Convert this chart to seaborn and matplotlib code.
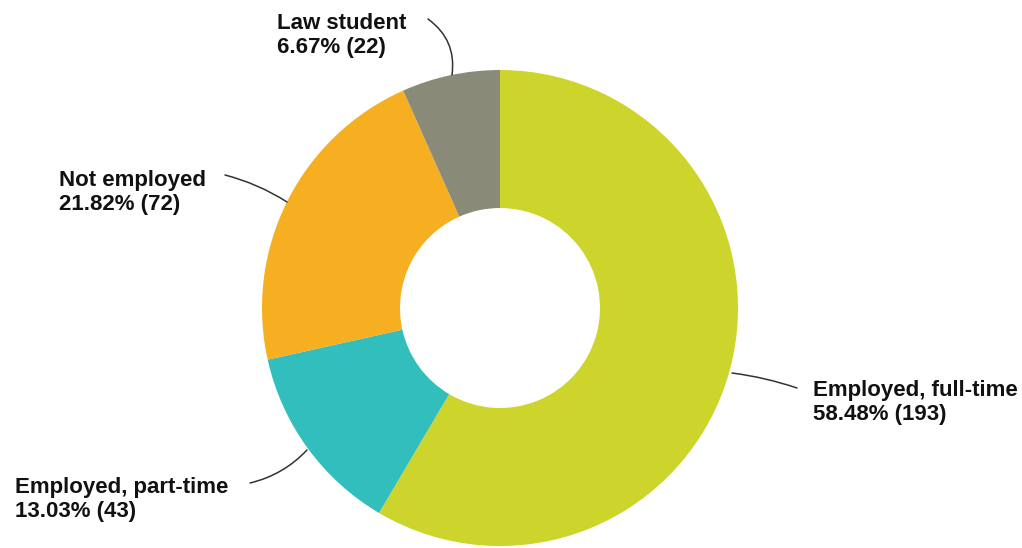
import matplotlib
matplotlib.use("Agg")
import matplotlib.pyplot as plt
import seaborn as sns

sns.set_theme(style="white")
plt.rcParams["font.family"] = ["Liberation Sans", "DejaVu Sans"]

# Graduate outcomes, clockwise from 12 o'clock
categories = ["Employed, full-time", "Employed, part-time", "Not employed", "Law student"]
counts = [193, 43, 72, 22]
percents = [58.48, 13.03, 21.82, 6.67]
colors = ["#CDD42B", "#33BEBE", "#F6AF21", "#8A8A78"]

W, H = 1022, 548
fig = plt.figure(figsize=(W / 100, H / 100), dpi=100)
ax = fig.add_axes([0, 0, 1, 1])

# work in pixel units, y measured upward
cx, cy = 500, H - 308
R, r = 238, 100
ax.pie(counts, colors=colors, startangle=90, counterclock=False,
       center=(cx, cy), radius=R,
       wedgeprops=dict(width=R - r, linewidth=0))
ax.set_xlim(0, W)
ax.set_ylim(0, H)
ax.set_aspect("equal", adjustable="box")
ax.axis("off")

# label anchor (left x, last-line baseline in pixels from top), leader start/end, curvature
layout = {
    "Employed, full-time": dict(tx=813, ty=420, p0=(797, 388), p1=(732, 373), rad=0.05),
    "Employed, part-time": dict(tx=15, ty=517, p0=(250, 483), p1=(307, 450), rad=0.15),
    "Not employed": dict(tx=59, ty=210, p0=(225, 175), p1=(287, 202), rad=-0.08),
    "Law student": dict(tx=277, ty=53, p0=(428, 19), p1=(452, 75), rad=-0.3),
}

for cat, n, pct in zip(categories, counts, percents):
    L = layout[cat]
    ax.text(L["tx"], H - L["ty"], f"{cat}\n{pct:.2f}% ({n})",
            ha="left", va="baseline", fontsize=16, fontweight="bold",
            color="#111111", linespacing=1.2,
            transform=ax.transData)
    ax.annotate("", xy=(L["p1"][0], H - L["p1"][1]),
                xytext=(L["p0"][0], H - L["p0"][1]),
                arrowprops=dict(arrowstyle="-", color="#333333", lw=1.1,
                                shrinkA=0, shrinkB=0,
                                connectionstyle=f"arc3,rad={L['rad']}"))

fig.savefig("out.png", dpi=100, facecolor="white")
